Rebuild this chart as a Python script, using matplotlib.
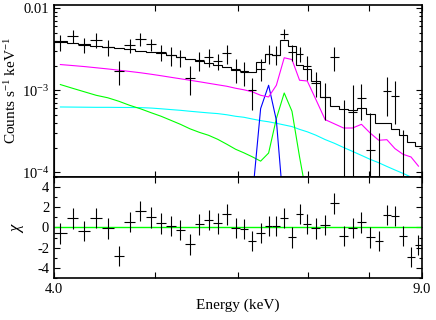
import numpy as np
import matplotlib.pyplot as plt
from matplotlib.ticker import FixedLocator, FixedFormatter, NullLocator, NullFormatter, LogLocator, MultipleLocator

plt.rcParams['font.family'] = 'Liberation Serif'
plt.rcParams['mathtext.fontset'] = 'custom'
plt.rcParams['mathtext.rm'] = 'Liberation Serif'
plt.rcParams['mathtext.it'] = 'Liberation Serif:italic'
plt.rcParams['axes.unicode_minus'] = False

# bin edges (keV)
edges = [4.0, 4.112, 4.220, 4.331, 4.446, 4.560, 4.670, 4.779, 4.899, 5.012,
         5.118, 5.228, 5.340, 5.455, 5.566, 5.678, 5.794, 5.913, 6.024, 6.131,
         6.248, 6.364, 6.472, 6.585, 6.700, 6.814, 6.928, 7.049, 7.193, 7.345,
         7.494, 7.647, 7.798, 7.952, 8.105, 8.256, 8.402, 8.552, 8.708, 8.859, 9.0]

# counts s-1 keV-1, in units of 1e-3
data = [3.88, 4.55, 3.61, 4.15, 3.37, 1.72, 3.54, 4.27, 3.64, 2.93,
        2.67, 2.51, 1.43, 2.32, 2.55, 2.26, 2.85, 1.80, 1.67, 1.00,
        1.84, 2.80, 2.72, 4.91, 2.93, 2.80, 1.96, 1.24, 0.829, 2.55,
        0.08, 0.546, 0.815, 0.185, -0.02, 0.98, 0.845, -0.05, -0.11, -0.14]
data_err = [0.89, 0.83, 0.76, 0.88, 0.72, 0.57, 0.70, 0.76, 0.61, 0.66,
            0.68, 0.61, 0.56, 0.59, 0.65, 0.50, 0.75, 0.58, 0.53, 0.42,
            0.55, 0.73, 0.71, 0.72, 0.68, 0.61, 0.64, 0.42, 0.40, 0.82,
            0.68, 0.60, 0.38, 0.34, 0.32, 0.49, 0.46, 0.38, 0.12, 0.20]
model = [3.96, 3.80, 3.64, 3.49, 3.39, 3.30, 3.16, 3.03, 2.95, 2.87,
         2.71, 2.53, 2.39, 2.26, 2.13, 2.02, 1.93, 1.78, 1.70, 1.67,
         2.19, 2.75, 2.71, 4.07, 3.49, 2.02, 1.80, 1.31, 0.822, 0.638,
         0.587, 0.580, 0.615, 0.510, 0.399, 0.399, 0.341, 0.283, 0.234, 0.208]

# model components
comp_magenta = [2.058, 2.001, 1.945, 1.881, 1.819, 1.754, 1.696, 1.635, 1.567, 1.503,
                1.440, 1.381, 1.324, 1.270, 1.217, 1.167, 1.119, 1.058, 1.014, 0.959,
                0.869, 0.829, 1.151, 2.490, 2.368, 1.324, 1.298, 0.777, 0.439, 0.390,
                0.347, 0.347, 0.385, 0.301, 0.246, 0.250, 0.195, 0.166, 0.154, 0.119]
comp_green = [1.174, 1.058, 0.959, 0.869, 0.810, 0.734, 0.656, 0.595, 0.532, 0.482,
              0.431, 0.385, 0.339, 0.307, 0.283, 0.253, 0.220, 0.191, 0.173, 0.155,
              0.137, 0.172, 0.452, 0.927, 0.555, 0.154, 0.0472, 0.005, 0.001, 0.001,
              0.001, 0.001, 0.001, 0.001, 0.001, 0.001, 0.001, 0.001, 0.001, 0.001]
comp_cyan = [0.626, 0.624, 0.622, 0.620, 0.620, 0.618, 0.617, 0.615, 0.607, 0.595,
             0.582, 0.570, 0.555, 0.542, 0.530, 0.520, 0.503, 0.482, 0.469, 0.447,
             0.427, 0.413, 0.396, 0.378, 0.361, 0.334, 0.312, 0.284, 0.251, 0.226,
             0.201, 0.180, 0.161, 0.144, 0.131, 0.118, 0.107, 0.0972, 0.0877, 0.0799]
comp_blue = [1e-4, 1e-4, 1e-4, 1e-4, 1e-4, 1e-4, 1e-4, 1e-4, 1e-4, 1e-4,
             1e-4, 1e-4, 1e-4, 1e-4, 1e-4, 1e-4, 1e-4, 1e-4, 0.002, 0.047,
             0.598, 1.151, 0.431, 0.030, 0.001, 1e-4, 1e-4, 1e-4, 1e-4, 1e-4,
             1e-4, 1e-4, 1e-4, 1e-4, 1e-4, 1e-4, 1e-4, 1e-4, 1e-4, 1e-4]

# residuals
chi = [-0.59, 0.88, -0.36, 0.94, -0.10, -2.80, 0.55, 1.60, 0.98, 0.39,
       0.16, -0.26, -1.67, 0.29, 0.72, 0.39, 1.27, -0.04, -0.17, -1.34,
       -0.53, 0.13, 0.16, 0.94, -0.98, 1.30, 0.32, -0.10, 0.23, 2.35,
       -0.85, -0.04, 0.49, -0.98, -1.34, 1.20, 1.10, -0.85, -2.88, -1.73]

edges = np.array(edges)
cen = 0.5 * (edges[:-1] + edges[1:])
half = 0.5 * np.diff(edges)
s = 1e-3

fig = plt.figure(figsize=(4.36, 3.2), dpi=100)
ax1 = fig.add_axes([0.124, 0.4484, 0.844, 0.5356])
ax2 = fig.add_axes([0.124, 0.1303, 0.844, 0.3181], sharex=ax1)

ax1.set_xscale('log')
ax1.set_yscale('log')

lw = 0.8
ax1.plot(cen, np.array(comp_cyan) * s, color='#00ffff', lw=lw)
ax1.plot(cen, np.array(comp_green) * s, color='#00ff00', lw=lw)
ax1.plot(cen, np.array(comp_blue) * s, color='#0000ff', lw=lw)
ax1.plot(cen, np.array(comp_magenta) * s, color='#ff00ff', lw=lw)
ax1.stairs(np.array(model) * s, edges, color='black', lw=lw)
ax1.errorbar(cen, np.array(data) * s, xerr=half, yerr=np.array(data_err) * s,
             fmt='none', ecolor='black', elinewidth=lw, capsize=0)

ax1.set_xlim(4.0, 9.0)
ax1.set_ylim(8.9e-5, 0.0109)
ax1.set_ylabel('Counts s$^{-1}$ keV$^{-1}$', fontsize=11, labelpad=2)

ax1.yaxis.set_major_locator(FixedLocator([1e-4, 1e-3, 1e-2]))
ax1.yaxis.set_major_formatter(FixedFormatter(['10$^{-4}$', '10$^{-3}$', '0.01']))
ax1.yaxis.set_minor_locator(LogLocator(base=10, subs=range(2, 10)))
ax1.yaxis.set_minor_formatter(NullFormatter())

ax2.axhline(0, color='#00ff00', lw=1.0)
ax2.errorbar(cen, chi, xerr=half, yerr=1.0, fmt='none', ecolor='black',
             elinewidth=lw, capsize=0)
ax2.set_ylim(-5, 5)
ax2.set_yticks([-4, -2, 0, 2, 4])
ax2.yaxis.set_minor_locator(MultipleLocator(1))
ax2.set_ylabel(r'$\chi$', fontsize=12, labelpad=8)
ax2.set_xlabel('Energy (keV)', fontsize=11, labelpad=2)

ax2.xaxis.set_major_locator(FixedLocator([4, 5, 6, 7, 8, 9]))
ax2.xaxis.set_major_formatter(FixedFormatter(['4.0', '', '', '', '', '9.0']))
ax2.xaxis.set_minor_locator(NullLocator())
ax1.tick_params(labelbottom=False)

for ax in (ax1, ax2):
    ax.tick_params(which='both', direction='in', top=True, right=True, labelsize=10.5, width=0.8)
    ax.tick_params(which='major', length=4)
    ax.tick_params(which='minor', length=2.5)
    for sp in ax.spines.values():
        sp.set_linewidth(1.2)

fig.savefig('out.png', dpi=100)
